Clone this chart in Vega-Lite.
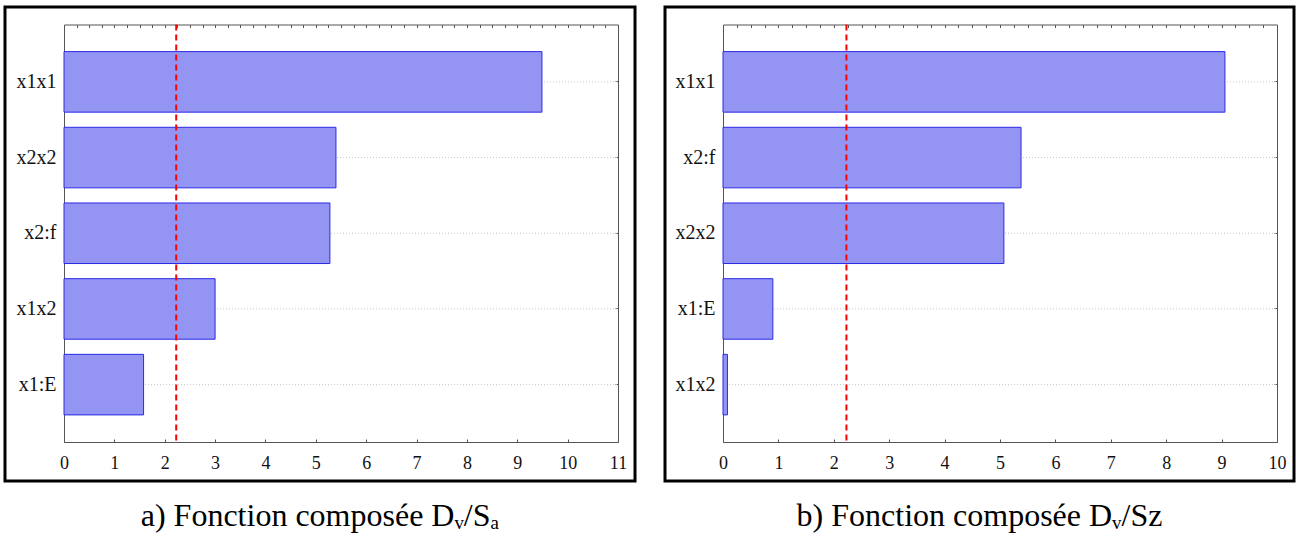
{
  "$schema": "https://vega.github.io/schema/vega-lite/v6.json",
  "padding": {"left": 3, "top": 5, "right": 0, "bottom": 0},
  "autosize": {"type": "pad"},
  "spacing": 26,
  "background": "white",
  "config": {
    "view": {"stroke": "#000000", "strokeWidth": 3},
    "font": "Liberation Serif, Times New Roman, serif",
    "axis": {"labelFont": "Liberation Serif, Times New Roman, serif", "grid": false, "domainColor": "#555555", "tickColor": "#555555", "labelColor": "#111111", "title": null},
    "title": {"font": "Liberation Serif, Times New Roman, serif", "fontWeight": "normal", "fontSize": 32, "color": "#000000"}
  },
  "datasets": {
    "a": [
      {"term": "x1x1", "value": 9.49},
      {"term": "x2x2", "value": 5.40},
      {"term": "x2:f", "value": 5.28},
      {"term": "x1x2", "value": 3.00},
      {"term": "x1:E", "value": 1.58}
    ],
    "b": [
      {"term": "x1x1", "value": 9.06},
      {"term": "x2:f", "value": 5.38},
      {"term": "x2x2", "value": 5.07},
      {"term": "x1:E", "value": 0.90},
      {"term": "x1x2", "value": 0.08}
    ],
    "crit": [{"t_crit": 2.228}]
  },
  "hconcat": [
    {
      "width": 630,
      "height": 474,
      "title": {"text": "a) Fonction composée Dᵥ/Sₐ", "orient": "bottom", "anchor": "middle", "frame": "group", "offset": 20},
      "data": {"name": "a"},
      "layer": [
        {
          "mark": {"type": "rule", "color": "#c8c8c8", "strokeDash": [1, 2], "strokeWidth": 1},
          "encoding": {
            "y": {"field": "term", "type": "nominal", "sort": {"field": "value", "order": "descending"},
              "scale": {"range": [17.5, 435], "paddingInner": 0.2, "paddingOuter": 0.358},
              "axis": {"orient": "right", "offset": -17, "labels": false, "tickSize": -3, "bandPosition": 0.5}},
            "x": {"datum": 0, "type": "quantitative",
              "scale": {"domain": [0, 11], "range": [59, 613], "nice": false},
              "axis": {"orient": "top", "offset": -17.5, "labels": false, "tickSize": -3,
                "values": [0,0.25,0.5,0.75,1,1.25,1.5,1.75,2,2.25,2.5,2.75,3,3.25,3.5,3.75,4,4.25,4.5,4.75,5,5.25,5.5,5.75,6,6.25,6.5,6.75,7,7.25,7.5,7.75,8,8.25,8.5,8.75,9,9.25,9.5,9.75,10,10.25,10.5,10.75,11]}},
            "x2": {"datum": 11}
          }
        },
        {
          "mark": {"type": "bar", "fill": "#9494f2", "stroke": "#2a2ae6", "strokeWidth": 1},
          "encoding": {
            "y": {"field": "term", "type": "nominal", "sort": {"field": "value", "order": "descending"},
              "scale": {"range": [17.5, 435], "paddingInner": 0.2, "paddingOuter": 0.358},
              "axis": {"orient": "left", "offset": -59, "tickSize": -3, "labelFontSize": 20, "labelPadding": 11, "bandPosition": 0.5}},
            "x": {"field": "value", "type": "quantitative",
              "scale": {"domain": [0, 11], "range": [59, 613], "nice": false},
              "axis": {"orient": "bottom", "offset": -39, "tickSize": -3, "labelFontSize": 18, "labelPadding": 15,
                "labelFlush": false, "labelOverlap": false, "format": "d",
                "labelExpr": "datum.value % 1 === 0 ? datum.label : ''",
                "values": [0,0.25,0.5,0.75,1,1.25,1.5,1.75,2,2.25,2.5,2.75,3,3.25,3.5,3.75,4,4.25,4.5,4.75,5,5.25,5.5,5.75,6,6.25,6.5,6.75,7,7.25,7.5,7.75,8,8.25,8.5,8.75,9,9.25,9.5,9.75,10,10.25,10.5,10.75,11]}}
          }
        },
        {
          "data": {"name": "crit"},
          "mark": {"type": "rule", "color": "#ff0000", "strokeWidth": 2, "strokeDash": [6, 4]},
          "encoding": {
            "x": {"field": "t_crit", "type": "quantitative", "scale": {"domain": [0, 11], "range": [59, 613], "nice": false}, "axis": null},
            "y": {"datum": 0, "type": "quantitative", "scale": {"domain": [0, 1], "range": [17.5, 435], "nice": false}, "axis": null},
            "y2": {"datum": 1}
          }
        }
      ],
      "resolve": {"scale": {"x": "independent", "y": "independent"}}
    },
    {
      "width": 629,
      "height": 474,
      "title": {"text": "b) Fonction composée Dᵥ/Sᴢ", "orient": "bottom", "anchor": "middle", "frame": "group", "offset": 20},
      "data": {"name": "b"},
      "layer": [
        {
          "mark": {"type": "rule", "color": "#c8c8c8", "strokeDash": [1, 2], "strokeWidth": 1},
          "encoding": {
            "y": {"field": "term", "type": "nominal", "sort": {"field": "value", "order": "descending"},
              "scale": {"range": [17.5, 435], "paddingInner": 0.2, "paddingOuter": 0.358},
              "axis": {"orient": "right", "offset": -17, "labels": false, "tickSize": -3, "bandPosition": 0.5}},
            "x": {"datum": 0, "type": "quantitative",
              "scale": {"domain": [0, 10], "range": [58, 612], "nice": false},
              "axis": {"orient": "top", "offset": -17.5, "labels": false, "tickSize": -3,
                "values": [0,0.25,0.5,0.75,1,1.25,1.5,1.75,2,2.25,2.5,2.75,3,3.25,3.5,3.75,4,4.25,4.5,4.75,5,5.25,5.5,5.75,6,6.25,6.5,6.75,7,7.25,7.5,7.75,8,8.25,8.5,8.75,9,9.25,9.5,9.75,10]}},
            "x2": {"datum": 10}
          }
        },
        {
          "mark": {"type": "bar", "fill": "#9494f2", "stroke": "#2a2ae6", "strokeWidth": 1},
          "encoding": {
            "y": {"field": "term", "type": "nominal", "sort": {"field": "value", "order": "descending"},
              "scale": {"range": [17.5, 435], "paddingInner": 0.2, "paddingOuter": 0.358},
              "axis": {"orient": "left", "offset": -58, "tickSize": -3, "labelFontSize": 20, "labelPadding": 11, "bandPosition": 0.5}},
            "x": {"field": "value", "type": "quantitative",
              "scale": {"domain": [0, 10], "range": [58, 612], "nice": false},
              "axis": {"orient": "bottom", "offset": -39, "tickSize": -3, "labelFontSize": 18, "labelPadding": 15,
                "labelFlush": false, "labelOverlap": false, "format": "d",
                "labelExpr": "datum.value % 1 === 0 ? datum.label : ''",
                "values": [0,0.25,0.5,0.75,1,1.25,1.5,1.75,2,2.25,2.5,2.75,3,3.25,3.5,3.75,4,4.25,4.5,4.75,5,5.25,5.5,5.75,6,6.25,6.5,6.75,7,7.25,7.5,7.75,8,8.25,8.5,8.75,9,9.25,9.5,9.75,10]}}
          }
        },
        {
          "data": {"name": "crit"},
          "mark": {"type": "rule", "color": "#ff0000", "strokeWidth": 2, "strokeDash": [6, 4]},
          "encoding": {
            "x": {"field": "t_crit", "type": "quantitative", "scale": {"domain": [0, 10], "range": [58, 612], "nice": false}, "axis": null},
            "y": {"datum": 0, "type": "quantitative", "scale": {"domain": [0, 1], "range": [17.5, 435], "nice": false}, "axis": null},
            "y2": {"datum": 1}
          }
        }
      ],
      "resolve": {"scale": {"x": "independent", "y": "independent"}}
    }
  ]
}
